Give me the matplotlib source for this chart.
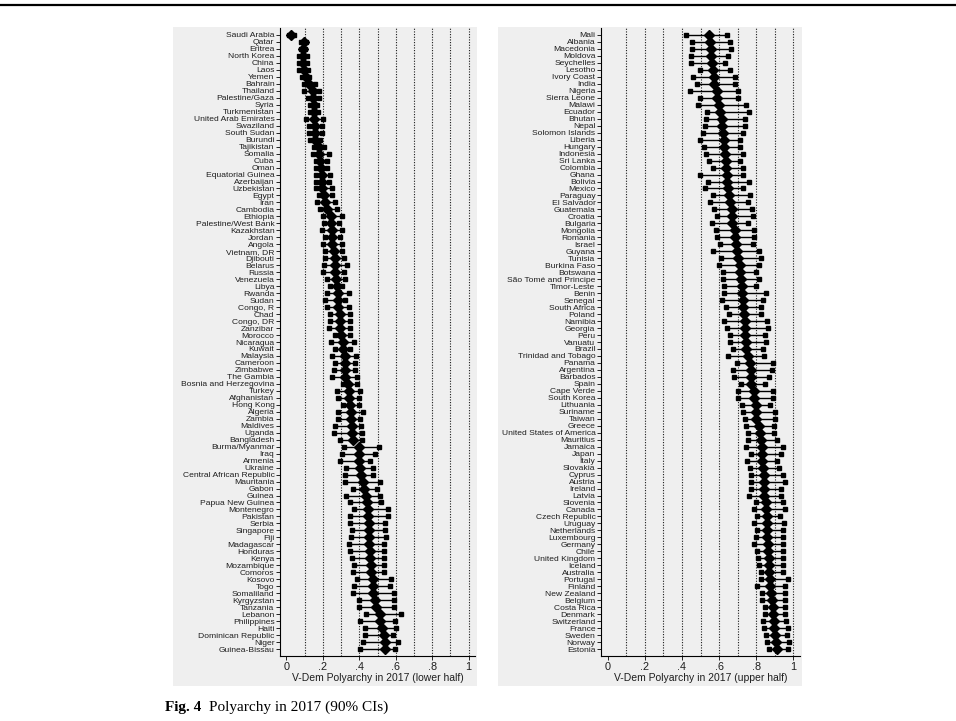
import matplotlib
matplotlib.use("Agg")
import matplotlib.pyplot as plt
from matplotlib.patches import Rectangle
from matplotlib.lines import Line2D

# ---- Lower half of the polyarchy ranking ----
lower_countries = [
    "Saudi Arabia", "Qatar", "Eritrea", "North Korea", "China", "Laos", "Yemen",
    "Bahrain", "Thailand", "Palestine/Gaza", "Syria", "Turkmenistan",
    "United Arab Emirates", "Swaziland", "South Sudan", "Burundi", "Tajikistan",
    "Somalia", "Cuba", "Oman", "Equatorial Guinea", "Azerbaijan", "Uzbekistan",
    "Egypt", "Iran", "Cambodia", "Ethiopia", "Palestine/West Bank", "Kazakhstan",
    "Jordan", "Angola", "Vietnam, DR", "Djibouti", "Belarus", "Russia",
    "Venezuela", "Libya", "Rwanda", "Sudan", "Congo, R", "Chad", "Congo, DR",
    "Zanzibar", "Morocco", "Nicaragua", "Kuwait", "Malaysia", "Cameroon",
    "Zimbabwe", "The Gambia", "Bosnia and Herzegovina", "Turkey", "Afghanistan",
    "Hong Kong", "Algeria", "Zambia", "Maldives", "Uganda", "Bangladesh",
    "Burma/Myanmar", "Iraq", "Armenia", "Ukraine", "Central African Republic",
    "Mauritania", "Gabon", "Guinea", "Papua New Guinea", "Montenegro", "Pakistan",
    "Serbia", "Singapore", "Fiji", "Madagascar", "Honduras", "Kenya",
    "Mozambique", "Comoros", "Kosovo", "Togo", "Somaliland", "Kyrgyzstan",
    "Tanzania", "Lebanon", "Philippines", "Haiti", "Dominican Republic", "Niger",
    "Guinea-Bissau",
]
lower_est = [
    .028, .095, .091, .091, .091, .095, .106, .122, .144, .144, .150, .150,
    .150, .159, .159, .159, .177, .177, .186, .190, .195, .195, .195, .204,
    .213, .223, .245, .245, .250, .250, .250, .263, .268, .268, .268, .274,
    .277, .281, .281, .281, .292, .292, .296, .301, .310, .310, .319, .323,
    .323, .323, .338, .345, .345, .350, .354, .354, .360, .360, .363, .400,
    .400, .401, .405, .409, .418, .427, .438, .442, .448, .450, .451, .452,
    .454, .456, .460, .460, .463, .463, .474, .474, .478, .484, .493, .515,
    .515, .524, .536, .542, .542,
]
lower_lo = [
    .016, .080, .082, .071, .071, .071, .088, .095, .095, .117, .131, .128,
    .109, .122, .122, .128, .150, .146, .164, .164, .164, .164, .164, .177,
    .168, .186, .200, .208, .195, .213, .200, .213, .213, .204, .200, .223,
    .241, .223, .213, .223, .241, .237, .232, .268, .245, .268, .250, .268,
    .259, .250, .310, .277, .283, .310, .283, .283, .268, .263, .296, .314,
    .305, .296, .327, .323, .323, .365, .327, .350, .369, .347, .350, .360,
    .354, .341, .350, .360, .372, .365, .387, .369, .365, .401, .396, .438,
    .405, .432, .432, .420, .405,
]
lower_hi = [
    .040, .108, .104, .113, .113, .117, .122, .159, .177, .177, .168, .173,
    .200, .195, .195, .186, .208, .235, .223, .223, .241, .232, .250, .250,
    .268, .277, .305, .287, .305, .292, .305, .305, .314, .332, .314, .323,
    .305, .341, .323, .341, .350, .350, .350, .350, .369, .350, .383, .378,
    .378, .387, .387, .405, .400, .396, .418, .405, .409, .414, .414, .509,
    .487, .460, .474, .474, .511, .496, .511, .518, .555, .555, .542, .542,
    .547, .533, .536, .536, .536, .533, .573, .569, .588, .588, .588, .630,
    .597, .602, .584, .615, .597,
]

# ---- Upper half of the polyarchy ranking ----
upper_countries = [
    "Mali", "Albania", "Macedonia", "Moldova", "Seychelles", "Lesotho",
    "Ivory Coast", "India", "Nigeria", "Sierra Leone", "Malawi", "Ecuador",
    "Bhutan", "Nepal", "Solomon Islands", "Liberia", "Hungary", "Indonesia",
    "Sri Lanka", "Colombia", "Ghana", "Bolivia", "Mexico", "Paraguay",
    "El Salvador", "Guatemala", "Croatia", "Bulgaria", "Mongolia", "Romania",
    "Israel", "Guyana", "Tunisia", "Burkina Faso", "Botswana",
    "São Tomé and Principe", "Timor-Leste", "Benin", "Senegal", "South Africa",
    "Poland", "Namibia", "Georgia", "Peru", "Vanuatu", "Brazil",
    "Trinidad and Tobago", "Panama", "Argentina", "Barbados", "Spain",
    "Cape Verde", "South Korea", "Lithuania", "Suriname", "Taiwan", "Greece",
    "United States of America", "Mauritius", "Jamaica", "Japan", "Italy",
    "Slovakia", "Cyprus", "Austria", "Ireland", "Latvia", "Slovenia", "Canada",
    "Czech Republic", "Uruguay", "Netherlands", "Luxembourg", "Germany", "Chile",
    "United Kingdom", "Iceland", "Australia", "Portugal", "Finland",
    "New Zealand", "Belgium", "Costa Rica", "Denmark", "Switzerland", "France",
    "Sweden", "Norway", "Estonia",
]
upper_est = [
    .548, .552, .556, .557, .561, .565, .573, .573, .588, .591, .599, .606,
    .615, .618, .620, .627, .629, .633, .636, .638, .642, .645, .649, .651,
    .660, .668, .672, .672, .683, .686, .692, .695, .704, .710, .713, .717,
    .722, .722, .726, .731, .735, .737, .740, .740, .746, .746, .758, .767,
    .771, .771, .771, .790, .790, .796, .799, .799, .817, .821, .824, .830,
    .830, .830, .835, .839, .842, .842, .842, .853, .853, .857, .857, .860,
    .860, .862, .862, .869, .869, .871, .875, .875, .878, .887, .889, .892,
    .896, .896, .901, .905, .910,
]
upper_lo = [
    .423, .453, .453, .450, .450, .495, .459, .480, .441, .498, .489, .534,
    .530, .525, .513, .498, .520, .530, .545, .566, .498, .539, .522, .566,
    .552, .573, .588, .561, .584, .591, .606, .566, .611, .602, .620, .620,
    .624, .624, .618, .638, .651, .624, .642, .656, .656, .677, .647, .695,
    .674, .681, .717, .699, .704, .722, .731, .740, .745, .754, .754, .745,
    .772, .749, .767, .772, .772, .772, .763, .797, .785, .803, .785, .803,
    .797, .788, .806, .808, .817, .824, .824, .803, .830, .830, .848, .848,
    .835, .842, .853, .857, .866,
]
upper_hi = [
    .642, .659, .663, .650, .633, .656, .686, .683, .704, .704, .744, .762,
    .737, .737, .726, .713, .710, .728, .710, .728, .728, .763, .728, .767,
    .753, .776, .781, .753, .789, .785, .781, .812, .824, .817, .796, .814,
    .799, .851, .835, .824, .824, .857, .862, .848, .851, .835, .842, .889,
    .884, .871, .848, .889, .889, .875, .901, .901, .896, .896, .910, .941,
    .934, .914, .923, .946, .955, .934, .934, .941, .952, .928, .950, .941,
    .941, .941, .941, .941, .943, .946, .968, .955, .955, .955, .955, .955,
    .959, .973, .964, .978, .973,
]

tick_values = [0, .2, .4, .6, .8, 1]
tick_labels = ["0", ".2", ".4", ".6", ".8", "1"]
grid_values = [.1, .2, .3, .4, .5, .6, .7, .8, .9, 1.0]

W, H = 956, 721
fig = plt.figure(figsize=(W / 100, H / 100), dpi=100)
fig.patch.set_facecolor("white")


def fx(px):
    return px / W


def fy(py):
    return 1 - py / H


SANS = ["Liberation Sans", "DejaVu Sans"]
SERIF = ["Liberation Serif", "DejaVu Serif"]
BG = "#efefef"

# light grey graph regions behind each panel
for x0, x1 in [(173, 477), (498, 802)]:
    fig.patches.append(Rectangle((fx(x0), fy(686)), fx(x1) - fx(x0), fy(27) - fy(686),
                                 transform=fig.transFigure, facecolor=BG,
                                 edgecolor="none", zorder=-5))


def panel(rect, names, est, lo, hi, xlabel):
    ax = fig.add_axes(rect)
    ax.set_zorder(2)
    ax.set_facecolor("none")
    n = len(names)
    rows = list(range(1, n + 1))
    for g in grid_values:
        ax.axvline(g, color="#1a1a1a", lw=0.8, ls=(0, (1, 1.4)), zorder=1)
    ax.hlines(rows, lo, hi, color="black", lw=1.0, zorder=2)
    ax.plot(lo, rows, ls="none", marker="s", ms=3.3, color="black", zorder=3)
    ax.plot(hi, rows, ls="none", marker="s", ms=3.3, color="black", zorder=3)
    ax.plot(est, rows, ls="none", marker="D", ms=4.9, color="black", zorder=4)
    ax.set_ylim(n + 1, 0)
    ax.set_xlim(-0.035, 1.035)
    ax.set_yticks(rows)
    ax.set_yticklabels(names, fontsize=6.1, family=SANS, color="#1e1e1e")
    ax.set_xticks(tick_values)
    ax.set_xticklabels(tick_labels, fontsize=7.8, family=SANS, color="#1e1e1e")
    for s in ("top", "right"):
        ax.spines[s].set_visible(False)
    for s in ("left", "bottom"):
        ax.spines[s].set_linewidth(0.8)
    ax.tick_params(axis="y", length=3, width=0.6, pad=1)
    ax.tick_params(axis="x", length=3, width=0.6, pad=1.5)
    ax.set_xlabel(xlabel, fontsize=7.5, family=SANS, color="#1e1e1e", labelpad=0.5)
    return ax


panel([fx(280), fy(656), 195 / W, 628 / H], lower_countries, lower_est,
      lower_lo, lower_hi, "V-Dem Polyarchy in 2017 (lower half)")
panel([fx(601), fy(656), 199 / W, 628 / H], upper_countries, upper_est,
      upper_lo, upper_hi, "V-Dem Polyarchy in 2017 (upper half)")

# rule across the top of the figure box
fig.add_artist(Line2D([0, 1], [fy(5), fy(5)], transform=fig.transFigure,
                      color="black", lw=1.6))

# caption
cap1 = fig.text(fx(165), fy(711), "Fig. 4", family=SERIF, fontsize=11,
                fontweight="bold", va="baseline", ha="left")
fig.canvas.draw()
bb = cap1.get_window_extent()
fig.text((bb.x1 + 8) / W, fy(711), "Polyarchy in 2017 (90% CIs)", family=SERIF,
         fontsize=11, va="baseline", ha="left")

fig.savefig("out.png", dpi=100, facecolor="white")
